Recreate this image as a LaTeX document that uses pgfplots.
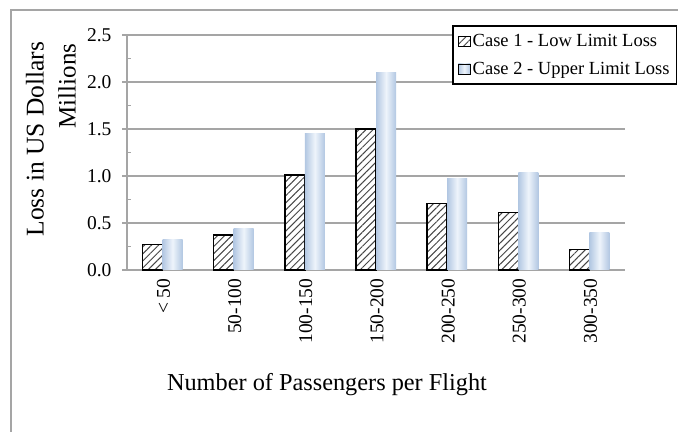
\documentclass[border=0pt]{standalone}
\usepackage{fontspec}
\setmainfont{Liberation Serif}
\usepackage{pgfplots}
\pgfplotsset{compat=1.18}
\usetikzlibrary{patterns.meta}
\definecolor{gridgray}{RGB}{165,165,165}
\definecolor{cedge}{RGB}{178,199,226}
\definecolor{cmid}{RGB}{238,244,251}
\definecolor{hatch}{RGB}{70,70,70}
\pgfplotsset{
  caseone/.style={ybar, bar width=20bp, bar shift=-10bp, draw=black, line width=1.5bp, fill=white,
    postaction={pattern={Lines[angle=45,distance=5bp,line width=1bp]}, pattern color=hatch}},
  casetwo/.style={ybar, bar width=20bp, bar shift=10bp, draw=none, left color=cedge, right color=cedge, middle color=cmid},
}
\begin{document}
\begin{tikzpicture}
\path[use as bounding box] (0,0) rectangle (678bp,432bp);
\draw[gridgray, line width=1.2bp] (11bp,0) -- (11bp,422bp) -- (678bp,422bp);
\begin{axis}[
  at={(127bp,162bp)}, anchor=south west,
  scale only axis, width=498bp, height=235bp,
  ymin=0, ymax=2.5, xmin=-0.5, xmax=6.5,
  axis x line=bottom, axis y line=left,
  axis line style={-, gridgray, line width=1.5bp},
  ytick={0,0.5,...,2.5},
  extra y ticks={0.25,0.75,1.25,1.75,2.25},
  extra y tick labels={},
  extra y tick style={grid=none, tick align=inside, major tick length=4bp},
  xtick={0,...,6},
  xticklabels={< 50,50-100,100-150,150-200,200-250,250-300,300-350},
  minor xtick={-0.5,0.5,...,6.5},
  xtick style={draw=none},
  tick align=outside,
  major tick length=5bp, minor tick length=5bp,
  every tick/.style={gridgray, line width=1.5bp},
  ymajorgrids, grid style={gridgray, line width=1.5bp},
  yticklabel style={/pgf/number format/fixed, /pgf/number format/fixed zerofill, /pgf/number format/precision=1},
  /pgf/number format/assume math mode=true,
  ticklabel style={font=\fontsize{19.5bp}{21bp}\selectfont, text=black},
  x tick label style={rotate=90, anchor=east, yshift=-1bp},
  y tick label style={xshift=-7bp},
  legend style={at={(0.6526,1.0426)}, anchor=north west, draw=black, line width=1.8bp, fill=white,
     font=\fontsize{18.5bp}{20bp}\selectfont, inner xsep=5bp, inner ysep=6.5bp, row sep=10bp,
     legend cell align=left,
     nodes={inner xsep=2bp}},
  legend image code/.code={\draw[#1, line width=0.8bp] (0bp,-5bp) rectangle (12bp,5bp);},
  clip=false,
]
\addplot[caseone]
  coordinates {(0,0.27) (1,0.37) (2,1.01) (3,1.50) (4,0.71) (5,0.61) (6,0.22)};
\addlegendentry{Case 1 - Low Limit Loss}
\addplot[casetwo] coordinates {(0,0.32)};
\addlegendentry{Case 2 - Upper Limit Loss}
\addplot[casetwo, forget plot] coordinates {(1,0.44)};
\addplot[casetwo, forget plot] coordinates {(2,1.45)};
\addplot[casetwo, forget plot] coordinates {(3,2.10)};
\addplot[casetwo, forget plot] coordinates {(4,0.97)};
\addplot[casetwo, forget plot] coordinates {(5,1.04)};
\addplot[casetwo, forget plot] coordinates {(6,0.40)};
\end{axis}
\node[rotate=90, font=\fontsize{25.5bp}{27bp}\selectfont] at (35bp,293bp) {Loss in US Dollars};
\node[rotate=90, font=\fontsize{25bp}{27bp}\selectfont] at (67bp,346bp) {Millions};
\node[font=\fontsize{24.3bp}{26bp}\selectfont] at (327bp,47bp) {Number of Passengers per Flight};
\end{tikzpicture}
\end{document}
